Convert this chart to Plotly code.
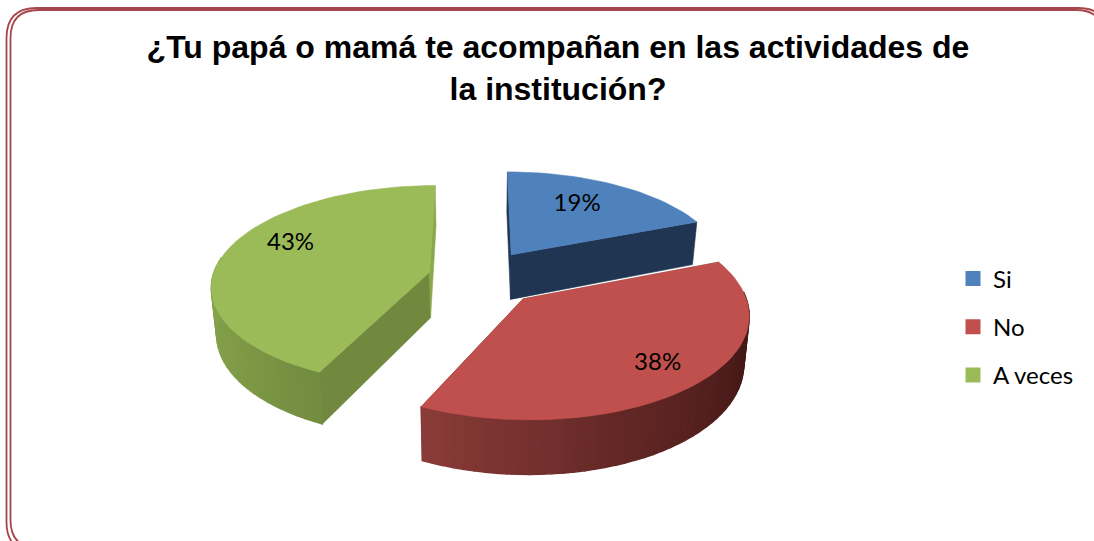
import math
import plotly.graph_objects as go

# ---- data ----
categories = ["Si", "No", "A veces"]
values = [19, 38, 43]
labels = ["19%", "38%", "43%"]
title_text = "<b>¿Tu papá o mamá te acompañan en las actividades de<br>la institución?</b>"

# ---- style ----
top_colors = ["#4f81bd", "#c0504d", "#9bbb59"]
cut_colors = [["#1f3552", "#1f3552"], ["#7a3431", "#7a3431"], ["#70893f", "#8aa84c"]]
rim_stops = [
    [(0, "#1f3552"), (1, "#1f3552")],
    [(0, "#3f1715"), (0.2, "#461a18"), (0.6, "#642826"), (1, "#8a3c39")],
    [(0, "#728c40"), (0.4, "#7f9b47"), (0.8, "#86a34c"), (1, "#8aa84e")],
]
pulls = [0.28, 0.295, 0.23]
label_r = [0.67, 0.79, 0.74]
label_turn = [-3, 0, 11]
draw_order = [0, 2, 1]
CX, CY, RX, TY, PERSP, DEPTH, CONVERGE = 478, 277, 217, 99, 0.13, 46, 0.02
FRAME = "#a5464a"
W, H = 1094, 541


def hex_rgb(c):
    return tuple(int(c[i:i + 2], 16) for i in (1, 3, 5))


def mix(stops, t):
    for (t0, c0), (t1, c1) in zip(stops, stops[1:]):
        if t <= t1:
            f = (t - t0) / (t1 - t0)
            a, b = hex_rgb(c0), hex_rgb(c1)
            return "rgb(%d,%d,%d)" % tuple(a[i] + (b[i] - a[i]) * f for i in range(3))
    return stops[-1][1]


def top(x, y):
    p = 1 / (1 + PERSP * y)
    return CX + RX * x * p, CY - TY * y * p


def base(x, y):
    p = 1 / (1 + PERSP * y)
    sx, sy = top(x, y)
    return sx + (CX - sx) * CONVERGE, sy + DEPTH * p


def polar(a, r=1.0):
    return r * math.sin(math.radians(a)), r * math.cos(math.radians(a))


def poly(pts, color, width=0.6):
    xs = [p[0] for p in pts] + [pts[0][0]]
    ys = [p[1] for p in pts] + [pts[0][1]]
    return go.Scatter(x=xs, y=ys, mode="lines", fill="toself", fillcolor=color,
                      line=dict(color=color, width=width),
                      hoverinfo="skip", showlegend=False)


fig = go.Figure()
total = sum(values)
spans, a = [], 0.0
for v in values:
    spans.append((a, a + 360 * v / total))
    a += 360 * v / total

for i in draw_order:
    a0, a1 = spans[i]
    mid = (a0 + a1) / 2
    ox, oy = polar(mid, pulls[i])
    n = max(4, int((a1 - a0) / 2.5))
    arc = [(ox + polar(a0 + (a1 - a0) * k / n)[0], oy + polar(a0 + (a1 - a0) * k / n)[1]) for k in range(n + 1)]
    apex = (ox, oy)
    # cut faces
    fig.add_trace(poly([top(*apex), top(*arc[0]), base(*arc[0]), base(*apex)], cut_colors[i][0]))
    fig.add_trace(poly([top(*apex), top(*arc[-1]), base(*arc[-1]), base(*apex)], cut_colors[i][1]))
    # outer rim, front-facing part only
    for k in range(n):
        p, q = arc[k], arc[k + 1]
        am = a0 + (a1 - a0) * (k + 0.5) / n
        if 85 < am < 280:
            if i == 1:
                t = (am - 90) / (205 - 90)
            else:
                t = (am - 205) / 75
            t = min(1, max(0, t))
            fig.add_trace(poly([top(*p), top(*q), base(*q), base(*p)], mix(rim_stops[i], t), width=1.4))
    # top face
    fig.add_trace(poly([top(*apex)] + [top(*p) for p in arc], top_colors[i]))

# data labels
for i in range(3):
    a0, a1 = spans[i]
    mid = (a0 + a1) / 2
    ox, oy = polar(mid, pulls[i])
    lx, ly = polar(mid + label_turn[i], label_r[i])
    sx, sy = top(ox + lx, oy + ly)
    fig.add_trace(go.Scatter(x=[sx], y=[sy], mode="text", text=[labels[i]],
                             textfont=dict(family="Lato", size=24, color="#000000"),
                             hoverinfo="skip", showlegend=False))

# legend entries
for name, col in zip(categories, top_colors):
    fig.add_trace(go.Scatter(x=[None], y=[None], mode="markers", name=name, legendgroup=name,
                             marker=dict(symbol="square", size=15, color=col)))


def round_rect(x0, y0, x1, y1, r):
    return (f"M {x0} {y0 + r} Q {x0} {y0} {x0 + r} {y0} L {x1 - r} {y0} Q {x1} {y0} {x1} {y0 + r} "
            f"L {x1} {y1 - r} Q {x1} {y1} {x1 - r} {y1} L {x0 + r} {y1} Q {x0} {y1} {x0} {y1 - r} Z")


shapes = [
    dict(type="path", path=round_rect(6.5, 8, 1108, 552, 30), line=dict(color=FRAME, width=1.8), xref="x", yref="y"),
    dict(type="path", path=round_rect(10.5, 10, 1104, 548, 28), line=dict(color=FRAME, width=1.8), xref="x", yref="y"),
]

fig.update_layout(
    width=W, height=H, margin=dict(l=0, r=0, t=0, b=0),
    paper_bgcolor="white", plot_bgcolor="white", shapes=shapes,
    xaxis=dict(range=[0, W], visible=False, fixedrange=True),
    yaxis=dict(range=[H, 0], visible=False, fixedrange=True),
    font=dict(family="Lato", color="#000000"),
    title=dict(text=title_text, x=558 / W, xanchor="center", y=1 - 58 / H, yanchor="middle",
               font=dict(family="Liberation Sans", size=32, color="#000000")),
    legend=dict(x=953 / W, y=1 - 327 / H, xanchor="left", yanchor="middle", tracegroupgap=14,
                font=dict(family="Lato", size=24, color="#000000"), bgcolor="rgba(0,0,0,0)"),
)

fig.write_html("out.html", config={"displayModeBar": False},
               post_script="document.body.style.margin='0';document.documentElement.style.overflow='hidden';")
